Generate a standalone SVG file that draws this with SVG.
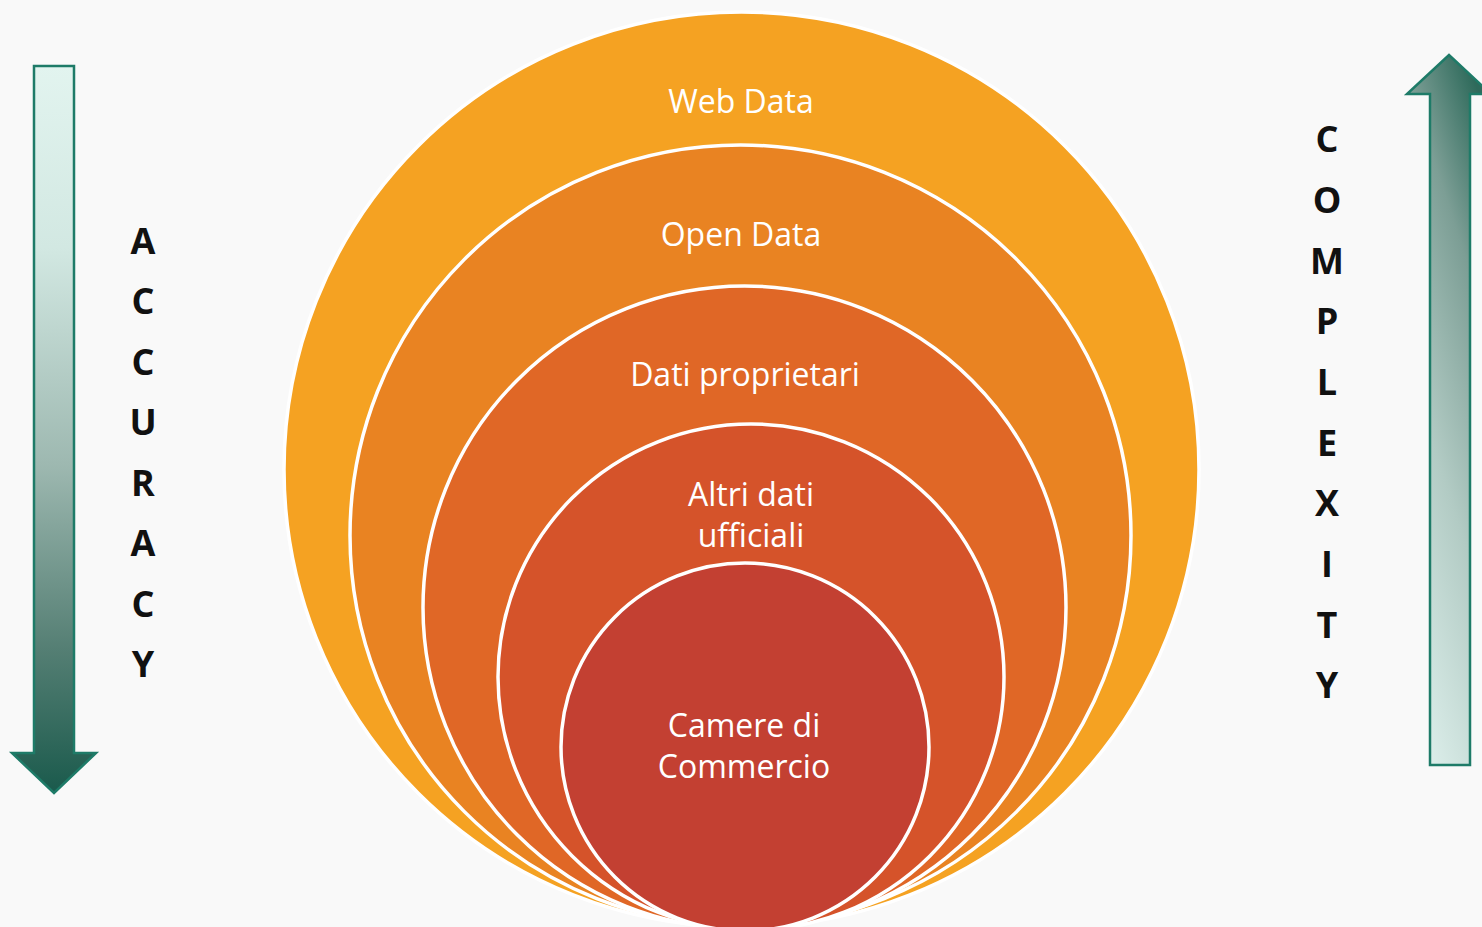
<svg xmlns="http://www.w3.org/2000/svg" width="1482" height="927" viewBox="0 0 1482 927">
  <style>
    .ring { stroke: #ffffff; stroke-width: 3.5; }
    .lbl { font-family: "Open Sans", "Noto Sans", sans-serif; font-size: 32px; fill: #ffffff; text-anchor: middle; }
    .vert { font-family: "Open Sans", "Liberation Sans", sans-serif; font-size: 36px; font-weight: bold; fill: #111111; text-anchor: middle; }
    .arrow { stroke: #1E7B68; stroke-width: 2.5; stroke-linejoin: miter; }
  </style>
  <defs>
    <linearGradient id="gDown" gradientUnits="userSpaceOnUse" x1="0" y1="66" x2="0" y2="793">
      <stop offset="0" stop-color="#E2F4EF"/>
      <stop offset="0.25" stop-color="#D2E8E2"/>
      <stop offset="0.55" stop-color="#9DB8B0"/>
      <stop offset="0.8" stop-color="#557F74"/>
      <stop offset="1" stop-color="#1A5A4C"/>
    </linearGradient>
    <linearGradient id="gUp" gradientUnits="userSpaceOnUse" x1="1430" y1="765" x2="1671" y2="687">
      <stop offset="0" stop-color="#DCEEEA"/>
      <stop offset="0.4" stop-color="#B2CBC4"/>
      <stop offset="0.75" stop-color="#7C9E95"/>
      <stop offset="1" stop-color="#2E6A5B"/>
    </linearGradient>
  </defs>
  <rect x="0" y="0" width="1482" height="927" fill="#F9F9F9"/>

  <g id="web-data">
    <circle class="ring" cx="741.5" cy="469.5" r="457.5" fill="#F5A222" stroke-width="1.5"/>
    <text class="lbl" x="741" y="113">Web Data</text>
  </g>
  <g id="open-data">
    <circle class="ring" cx="740.5" cy="535.5" r="390.5" fill="#E98322"/>
    <text class="lbl" x="741" y="246">Open Data</text>
  </g>
  <g id="dati-proprietari">
    <circle class="ring" cx="744.5" cy="607.5" r="321.5" fill="#E06726"/>
    <text class="lbl" x="745" y="386">Dati proprietari</text>
  </g>
  <g id="altri-dati-ufficiali">
    <circle class="ring" cx="751" cy="677" r="253" fill="#D5532A"/>
    <text class="lbl" x="751" y="506">Altri dati</text>
    <text class="lbl" x="751" y="547">ufficiali</text>
  </g>
  <g id="camere-di-commercio">
    <circle class="ring" cx="745" cy="747" r="184" fill="#C34032"/>
    <text class="lbl" x="744" y="737">Camere di</text>
    <text class="lbl" x="744" y="778">Commercio</text>
  </g>

  <g id="connectors">
    <polygon id="accuracy-arrow" class="arrow" fill="url(#gDown)" points="34,66 74,66 74,753 96,753 54,793 12,753 34,753"/>
    <polygon id="complexity-arrow" class="arrow" fill="url(#gUp)" points="1430,765 1470,765 1470,94 1491,94 1449,55 1407,94 1430,94"/>
  </g>

  <g id="accuracy-label">
    <text class="vert" x="143" y="254">A</text>
    <text class="vert" x="143" y="314">C</text>
    <text class="vert" x="143" y="375">C</text>
    <text class="vert" x="143" y="435">U</text>
    <text class="vert" x="143" y="496">R</text>
    <text class="vert" x="143" y="556">A</text>
    <text class="vert" x="143" y="617">C</text>
    <text class="vert" x="143" y="677">Y</text>
  </g>
  <g id="complexity-label">
    <text class="vert" x="1327" y="152">C</text>
    <text class="vert" x="1327" y="213">O</text>
    <text class="vert" x="1327" y="274">M</text>
    <text class="vert" x="1327" y="334">P</text>
    <text class="vert" x="1327" y="395">L</text>
    <text class="vert" x="1327" y="456">E</text>
    <text class="vert" x="1327" y="516">X</text>
    <text class="vert" x="1327" y="577">I</text>
    <text class="vert" x="1327" y="638">T</text>
    <text class="vert" x="1327" y="698">Y</text>
  </g>
</svg>
